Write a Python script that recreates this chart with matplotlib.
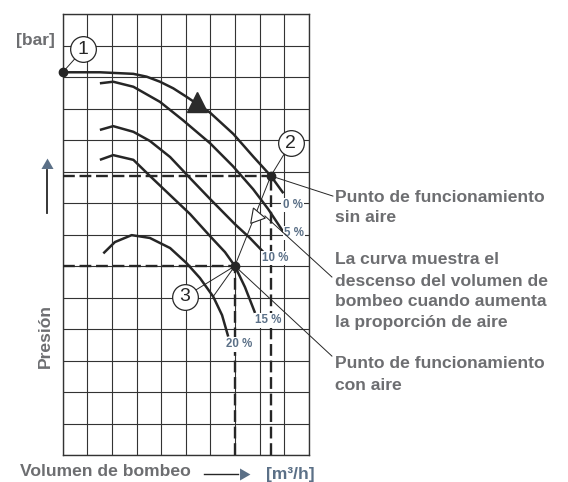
import matplotlib.pyplot as plt
from matplotlib.lines import Line2D

# curvas de la bomba con distintos porcentajes de aire (unidades de cuadricula)
x_0 = [0.00, 1.51, 2.87, 3.41, 3.95, 4.49, 5.03, 5.98, 6.93, 7.74, 8.45, 8.96]
y_0 = [12.15, 12.15, 12.10, 12.01, 11.85, 11.64, 11.37, 10.87, 10.19, 9.47, 8.86, 8.31]
x_5 = [1.51, 2.05, 2.87, 3.95, 4.88, 5.98, 6.91, 7.73, 8.34, 8.96]
y_5 = [11.80, 11.85, 11.69, 11.21, 10.63, 9.90, 9.17, 8.44, 7.81, 7.08]
x_10 = [1.51, 2.05, 2.87, 3.54, 4.36, 5.17, 5.98, 6.99, 7.60, 8.14]
y_10 = [10.32, 10.44, 10.26, 9.97, 9.46, 8.79, 8.13, 7.33, 6.89, 6.45]
x_15 = [1.51, 2.05, 2.87, 3.54, 4.36, 5.17, 5.98, 6.59, 6.99, 7.40, 7.81]
y_15 = [9.37, 9.52, 9.37, 8.86, 8.25, 7.65, 6.95, 6.44, 6.00, 5.33, 4.51]
x_20 = [1.65, 2.12, 2.80, 3.54, 4.36, 5.03, 5.57, 6.11, 6.47, 6.72]
y_20 = [6.40, 6.76, 6.98, 6.89, 6.57, 6.09, 5.62, 5.03, 4.44, 3.76]

curves = [(x_0, y_0), (x_5, y_5), (x_10, y_10), (x_15, y_15), (x_20, y_20)]
pct_labels = ["0 %", "5 %", "10 %", "15 %", "20 %"]
pct_x = [9.33, 9.39, 8.62, 8.34, 7.18]
pct_y = [7.94, 7.05, 6.25, 4.27, 3.51]

# puntos de funcionamiento
p1 = (0.0, 12.15)
p2 = (8.45, 8.86)
p3 = (6.99, 6.00)
# curva de descenso (del punto 2 al 3)
x_desc = [8.45, 6.99, 6.11]
y_desc = [8.86, 6.00, 5.03]

circle_num = ["1", "2", "3"]
circle_x = [0.84, 9.26, 4.97]
circle_y = [12.88, 9.90, 5.03]

dark = "#262626"
grey = "#6d6e71"
blue = "#5b7087"

fig = plt.figure(figsize=(5.68, 4.82), dpi=100)
ax = fig.add_axes([62.7 / 568, 27 / 482, 246.3 / 568, 441 / 482])
ax.set_xlim(0, 10)
ax.set_ylim(0, 14)
ax.set_xticks(range(11))
ax.set_yticks(range(15))
ax.tick_params(length=0, labelbottom=False, labelleft=False)
ax.grid(True, color="#333333", lw=0.8)
for s in ax.spines.values():
    s.set_color("#333333")
    s.set_linewidth(1.0)

# lineas discontinuas de los puntos 2 y 3
for px, py in [p2, p3]:
    ax.plot([0, px], [py, py], color=dark, lw=1.7, ls=(0, (5, 2)), zorder=3)
    ax.plot([px, px], [0, py], color=dark, lw=1.7, ls=(0, (5, 2)), zorder=3)

for cx, cy in curves:
    ax.plot(cx, cy, color=dark, lw=1.8, solid_capstyle="butt", zorder=4)

ax.plot(x_desc, y_desc, color=dark, lw=0.7, zorder=4)

# flechas sobre las curvas
ax.plot(5.45, 11.21, marker="^", ms=14, color="#2b2b2b", zorder=6)
ax.plot(7.85, 7.59, marker=(3, 0, -100), ms=13, mfc="white", mec=dark, mew=0.8, zorder=6)

for px, py in [p1, p2, p3]:
    ax.plot(px, py, "o", ms=6, color=dark, zorder=7, clip_on=False)

# circulos numerados
for num, cx, cy, (px, py) in zip(circle_num, circle_x, circle_y, [p1, p2, p3]):
    ax.plot([cx, px], [cy, py], color=dark, lw=0.7, zorder=7, clip_on=False)
    ax.plot(cx, cy, "o", ms=18.5, mfc="white", mec=dark, mew=0.9, zorder=8, clip_on=False)
    ax.text(cx, cy, num, ha="center", va="center", fontsize=14, color=dark,
            family="Liberation Sans", zorder=9)

for lab, lx, ly in zip(pct_labels, pct_x, pct_y):
    ax.text(lx, ly, lab, ha="center", va="center", fontsize=8.3, color=blue,
            fontweight="bold", family="Liberation Sans", zorder=5,
            bbox=dict(boxstyle="square,pad=0.1", fc="white", ec="none"))

# lineas de referencia hacia los textos
ax.plot([p2[0], 10.97], [p2[1], 8.22], color=dark, lw=0.7, clip_on=False, zorder=6)
ax.plot([8.21, 10.93], [7.59, 5.65], color=dark, lw=0.7, clip_on=False, zorder=6)
ax.plot([p3[0], 10.93], [p3[1], 3.14], color=dark, lw=0.7, clip_on=False, zorder=6)

right_lines = ["Punto de funcionamiento", "sin aire",
               "La curva muestra el", "descenso del volumen de",
               "bombeo cuando aumenta", "la proporción de aire",
               "Punto de funcionamiento", "con aire"]
right_y = [197, 218, 259, 281, 302, 323, 363, 385]
for t, py in zip(right_lines, right_y):
    fig.text(335 / 568, 1 - py / 482, t, ha="left", va="center", fontsize=12.6,
             fontweight="bold", color=grey, family="Liberation Sans")

fig.text(16 / 568, 1 - 41 / 482, "[bar]", ha="left", va="center", fontsize=12.6,
         fontweight="bold", color=grey, family="Liberation Sans")
fig.text(45 / 568, 1 - 336 / 482, "Presión", ha="center", va="center", rotation=90,
         fontsize=12.6, fontweight="bold", color=grey, family="Liberation Sans")
fig.text(20 / 568, 1 - 472 / 482, "Volumen de bombeo", ha="left", va="center",
         fontsize=12.6, fontweight="bold", color=grey, family="Liberation Sans")
fig.text(266 / 568, 1 - 474 / 482, "[m³/h]", ha="left", va="center", fontsize=12.5,
         fontweight="bold", color=blue, family="Liberation Sans")

# flechas de los ejes
fig.add_artist(Line2D([46.7 / 568, 46.7 / 568], [1 - 213 / 482, 1 - 170 / 482],
                      transform=fig.transFigure, color=dark, lw=1.3))
fig.add_artist(Line2D([46.7 / 568], [1 - 165 / 482], transform=fig.transFigure,
                      marker=(3, 0, 0), ms=10, color=blue, mew=0))
fig.add_artist(Line2D([204 / 568, 238 / 568], [1 - 474 / 482, 1 - 474 / 482],
                      transform=fig.transFigure, color=dark, lw=1.0))
fig.add_artist(Line2D([243 / 568], [1 - 474 / 482], transform=fig.transFigure,
                      marker=(3, 0, -90), ms=10, color=blue, mew=0))

fig.savefig("out.png", dpi=100)
